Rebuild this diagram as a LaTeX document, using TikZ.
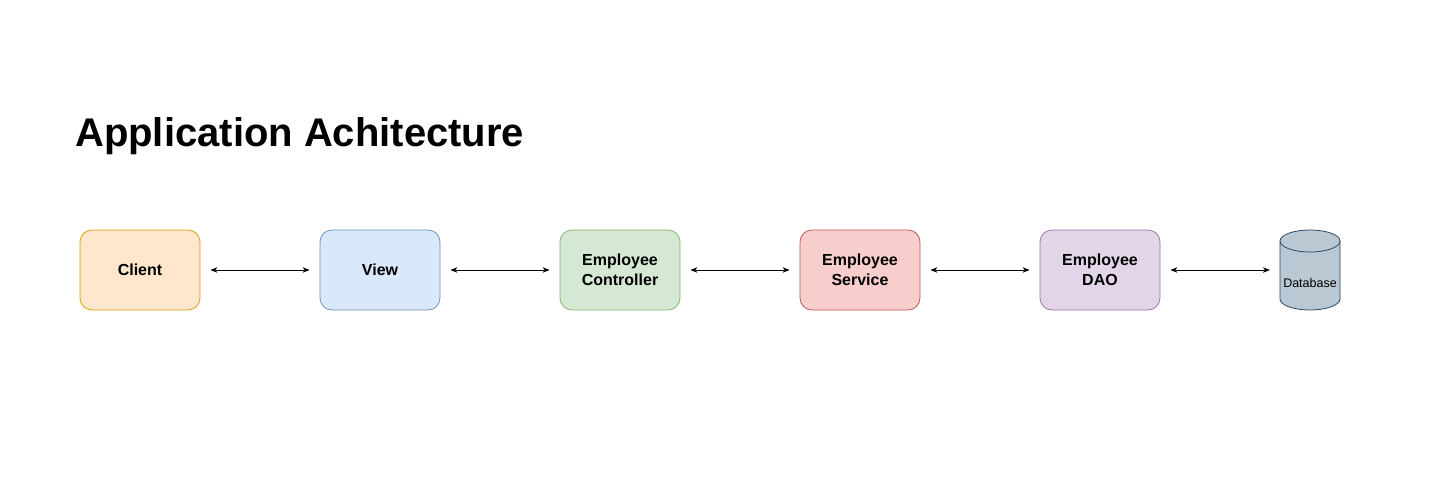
\documentclass[tikz,border=0pt]{standalone}
\usepackage{fontspec}
\setmainfont{Liberation Sans}
\usetikzlibrary{arrows.meta}
\definecolor{clientfill}{HTML}{FFE6CC}
\definecolor{clientline}{HTML}{D79B00}
\definecolor{viewfill}{HTML}{DAE8FC}
\definecolor{viewline}{HTML}{6C8EBF}
\definecolor{ctrlfill}{HTML}{D5E8D4}
\definecolor{ctrlline}{HTML}{82B366}
\definecolor{svcfill}{HTML}{F8CECC}
\definecolor{svcline}{HTML}{B85450}
\definecolor{daofill}{HTML}{E1D5E7}
\definecolor{daoline}{HTML}{9673A6}
\definecolor{dbfill}{HTML}{BAC8D3}
\definecolor{dbline}{HTML}{23445D}
\begin{document}
\begin{tikzpicture}[x=1pt, y=-1pt,
    layer/.style={draw, rounded corners=12pt, minimum width=120pt, minimum height=80pt,
        align=center, line width=0.75pt, inner sep=0pt,
        font=\fontsize{16}{20}\selectfont\bfseries},
    link/.style={{Stealth[length=7pt,width=5.5pt]}-{Stealth[length=7pt,width=5.5pt]},
        line width=0.75pt, shorten <=10pt, shorten >=10pt}]
    \useasboundingbox (0,0) rectangle (1440,490);

    \node[anchor=base west, inner sep=0pt, font=\fontsize{40}{48}\selectfont\bfseries]
        (title) at (75,146) {Application Achitecture};

    \node[layer, fill=clientfill, draw=clientline] (client) at (140,270) {Client};
    \node[layer, fill=viewfill, draw=viewline] (view) at (380,270) {View};
    \node[layer, fill=ctrlfill, draw=ctrlline] (controller) at (620,270) {Employee\\Controller};
    \node[layer, fill=svcfill, draw=svcline] (service) at (860,270) {Employee\\Service};
    \node[layer, fill=daofill, draw=daoline] (dao) at (1100,270) {Employee\\DAO};

    % database cylinder
    \draw[fill=dbfill, draw=dbline, line width=0.75pt] (1280,241) -- (1280,299)
        arc[start angle=180, end angle=0, x radius=30, y radius=11] -- (1340,241)
        arc[start angle=0, end angle=-180, x radius=30, y radius=11] -- cycle;
    \draw[draw=dbline, line width=0.75pt] (1280,241)
        arc[start angle=180, end angle=0, x radius=30, y radius=11];
    \node[minimum width=60pt, minimum height=80pt, inner sep=0pt] (db) at (1310,270) {};
    \node[font=\fontsize{12.5}{15}\selectfont, inner sep=0pt] (dblabel) at (1310,283) {Database};

    \draw[link] (client.east) -- (view.west);
    \draw[link] (view.east) -- (controller.west);
    \draw[link] (controller.east) -- (service.west);
    \draw[link] (service.east) -- (dao.west);
    \draw[link] (dao.east) -- (db.west);
\end{tikzpicture}
\end{document}
